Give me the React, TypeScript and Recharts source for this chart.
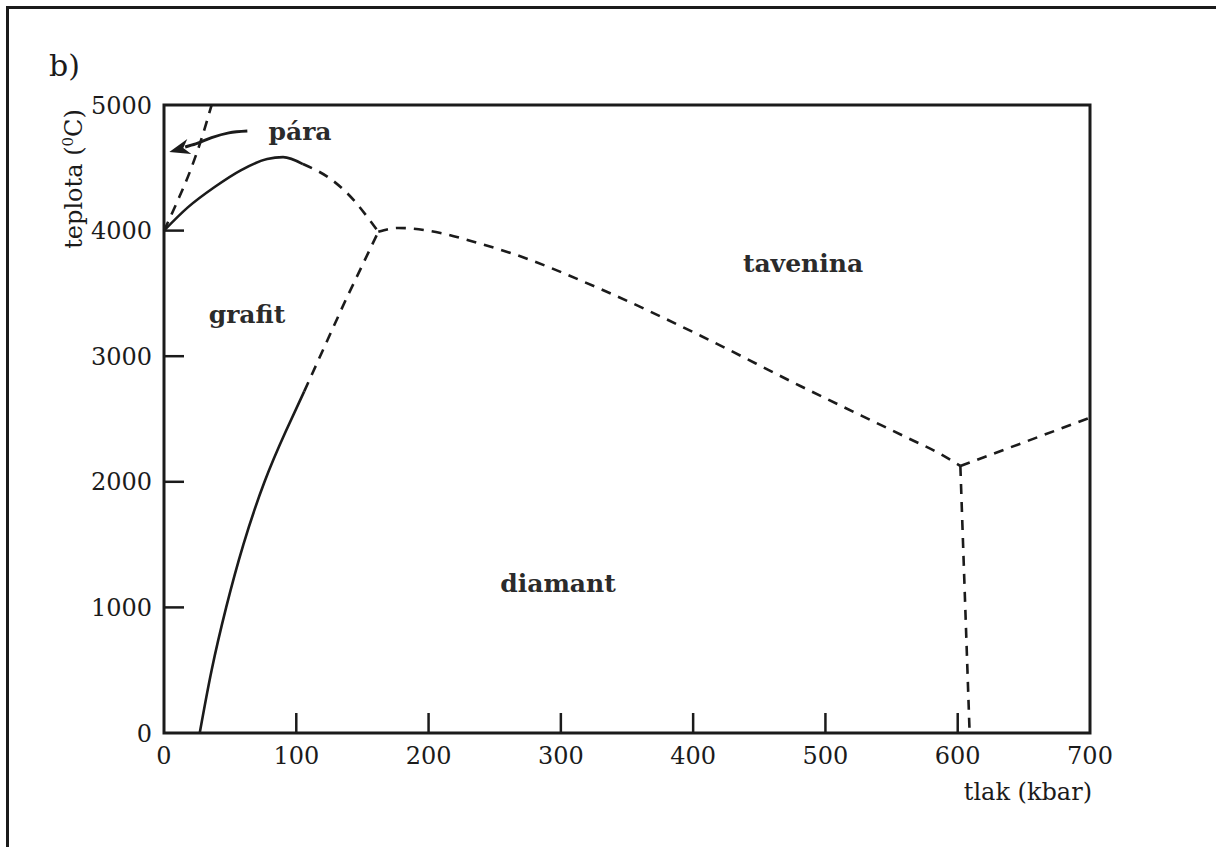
import React from "react";
import {
  LineChart,
  Line,
  XAxis,
  YAxis,
  ReferenceArea,
  ReferenceDot,
} from "recharts";

const INK = "#1b1b1b";
const SERIF = "'DejaVu Serif', serif";

// axis ticks: pressure (kbar) and temperature (°C)
const P_TICKS = [0, 100, 200, 300, 400, 500, 600, 700];
const T_TICKS = [0, 1000, 2000, 3000, 4000, 5000];

// graphite / diamond boundary — measured part (solid)
const GD_P = [27, 36, 47, 60, 76, 92, 106];
const GD_T = [0, 500, 1000, 1500, 2000, 2400, 2720];
// graphite / diamond boundary — extrapolated (dashed)
const GD_EXT_P = [106, 137, 162];
const GD_EXT_T = [2720, 3440, 3990];

// graphite melting curve (solid)
const GM_P = [0, 18, 38, 58, 78, 90, 105];
const GM_T = [4000, 4185, 4345, 4480, 4570, 4585, 4530];
// graphite melting — extrapolated (dashed)
const GM_EXT_P = [105, 128, 144, 156, 162];
const GM_EXT_T = [4530, 4395, 4236, 4076, 3990];

// vapour boundary (dashed)
const VAP_P = [0, 10, 20, 28, 36];
const VAP_T = [4000, 4230, 4480, 4720, 5000];

// diamond melting curve (dashed)
const DM_P = [162, 177, 209, 232, 262, 330, 406, 481, 559, 587, 602];
const DM_T = [3990, 4021, 3981, 3917, 3822, 3535, 3161, 2763, 2365, 2221, 2126];

// high-pressure boundaries from the second triple point (dashed)
const HP_P = [602, 700];
const HP_T = [2126, 2510];
const HV_P = [602, 609];
const HV_T = [2126, 0];

// arrow pointing at the vapour field
const ARROW_P = [16, 24, 36, 49, 63];
const ARROW_T = [4666, 4690, 4740, 4778, 4793];
const ARROW_TIP = { p: 4, t: 4626 };

const zip = (ps: number[], ts: number[]) => ps.map((p, i) => ({ p, t: ts[i] }));

const XTick = ({ x, y, payload }: any) => {
  const v = payload.value;
  const inner = v !== 0 && v !== 700;
  return (
    <g>
      {inner && <line x1={x} x2={x} y1={y} y2={y - 20} stroke={INK} strokeWidth={2.5} />}
      <text x={x} y={y + 31} textAnchor="middle" fontFamily={SERIF} fontSize={24} fill={INK}>
        {v}
      </text>
    </g>
  );
};

const YTick = ({ x, y, payload }: any) => {
  const v = payload.value;
  const inner = v !== 0 && v !== 5000;
  return (
    <g>
      {inner && <line x1={x} x2={x + 20} y1={y} y2={y} stroke={INK} strokeWidth={2.5} />}
      <text x={x - 12} y={y} dy="0.36em" textAnchor="end" fontFamily={SERIF} fontSize={24} fill={INK}>
        {v}
      </text>
    </g>
  );
};

const ArrowHead = ({ cx, cy }: any) => (
  <polygon
    points={`${cx},${cy} ${cx + 18},${cy - 13} ${cx + 14},${cy - 4} ${cx + 22},${cy + 2}`}
    fill={INK}
  />
);

const solid = { stroke: INK, strokeWidth: 2.6, dot: false, activeDot: false, isAnimationActive: false };
const dashed = { ...solid, strokeDasharray: "10 8" };

export default function App() {
  return (
    <div style={{ position: "absolute", left: 0, top: 0, width: 1216, height: 847, background: "#fff" }}>
      <div
        style={{
          position: "absolute",
          left: 6,
          top: 6,
          right: 0,
          bottom: 0,
          borderLeft: `3px solid ${INK}`,
          borderTop: `3px solid ${INK}`,
        }}
      />
      <LineChart
        width={1216}
        height={847}
        margin={{ top: 105, right: 126, bottom: 64, left: 104 }}
        style={{ position: "absolute", left: 0, top: 0 }}
      >
        <XAxis
          type="number"
          dataKey="p"
          domain={[0, 700]}
          ticks={P_TICKS}
          interval={0}
          height={50}
          axisLine={false}
          tickLine={false}
          tickSize={0}
          tickMargin={0}
          tick={<XTick />}
        />
        <YAxis
          type="number"
          dataKey="t"
          domain={[0, 5000]}
          ticks={T_TICKS}
          interval={0}
          width={60}
          axisLine={false}
          tickLine={false}
          tickSize={0}
          tickMargin={0}
          tick={<YTick />}
        />
        <ReferenceArea x1={0} x2={700} y1={0} y2={5000} fill="none" stroke={INK} strokeWidth={3} />
        <Line data={zip(GD_P, GD_T)} dataKey="t" type="natural" {...solid} />
        <Line data={zip(GD_EXT_P, GD_EXT_T)} dataKey="t" type="linear" {...dashed} />
        <Line data={zip(GM_P, GM_T)} dataKey="t" type="monotone" {...solid} />
        <Line data={zip(GM_EXT_P, GM_EXT_T)} dataKey="t" type="monotone" {...dashed} />
        <Line data={zip(VAP_P, VAP_T)} dataKey="t" type="monotone" {...dashed} />
        <Line data={zip(DM_P, DM_T)} dataKey="t" type="monotone" {...dashed} />
        <Line data={zip(HP_P, HP_T)} dataKey="t" type="linear" {...dashed} />
        <Line data={zip(HV_P, HV_T)} dataKey="t" type="linear" {...dashed} />
        <Line data={zip(ARROW_P, ARROW_T)} dataKey="t" type="monotone" {...solid} strokeWidth={3} />
        <ReferenceDot x={ARROW_TIP.p} y={ARROW_TIP.t} shape={<ArrowHead />} />
      </LineChart>
      <svg
        width={1216}
        height={847}
        style={{ position: "absolute", left: 0, top: 0, pointerEvents: "none" }}
      >
        <text x={49} y={76} fontFamily={SERIF} fontSize={30} fill={INK}>
          b)
        </text>
        <text
          transform="translate(82,179) rotate(-90)"
          textAnchor="middle"
          fontFamily={SERIF}
          fontSize={24}
          fill={INK}
        >
          teplota (
          <tspan fontSize={15} dy={-9}>
            0
          </tspan>
          <tspan dy={9}>C)</tspan>
        </text>
        <text x={1092} y={800} textAnchor="end" fontFamily={SERIF} fontSize={24} fill={INK}>
          tlak (kbar)
        </text>
        <g fontFamily={SERIF} fontWeight="bold" fontSize={25} fill="#2b2b2b">
          <text x={300} y={140} textAnchor="middle">pára</text>
          <text x={247} y={323} textAnchor="middle">grafit</text>
          <text x={803} y={272} textAnchor="middle">tavenina</text>
          <text x={558} y={592} textAnchor="middle">diamant</text>
        </g>
      </svg>
    </div>
  );
}
